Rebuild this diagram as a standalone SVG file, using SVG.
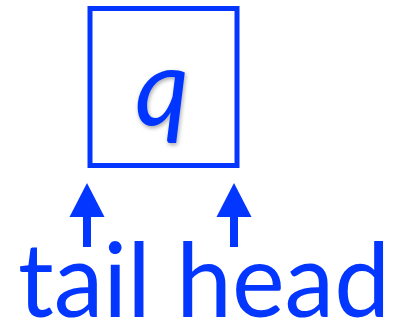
<svg xmlns="http://www.w3.org/2000/svg" width="402" height="326" viewBox="0 0 402 326">
<style>
.blue{fill:#0336ff}
.lbl{font-family:Lato,"Liberation Sans",sans-serif;font-size:102px;fill:#0336ff}
.q{font-family:Lato,"Liberation Sans",sans-serif;font-style:italic;font-size:106px;fill:#0336ff}
</style>
<defs>
<filter id="sh" x="-30%" y="-30%" width="160%" height="160%">
<feDropShadow dx="1" dy="2" stdDeviation="2" flood-color="#000" flood-opacity="0.35"/>
</filter>
</defs>
<g id="box">
<rect x="90" y="8.5" width="147" height="157" fill="#fff" stroke="#0336ff" stroke-width="5"/>
<text class="q" x="162" y="125" text-anchor="middle" filter="url(#sh)">q</text>
</g>
<g id="connectors">
<g id="arrow-tail" class="blue">
<rect x="83" y="214" width="8" height="33"/>
<polygon points="87,183 104.5,217 69.5,217"/>
</g>
<g id="arrow-head" class="blue">
<rect x="230" y="214" width="8" height="33"/>
<polygon points="234,183 251.5,217 216.5,217"/>
</g>
</g>
<g id="labels">
<text class="lbl" x="18" y="317" textLength="372" lengthAdjust="spacingAndGlyphs">tail head</text>
</g>
</svg>
